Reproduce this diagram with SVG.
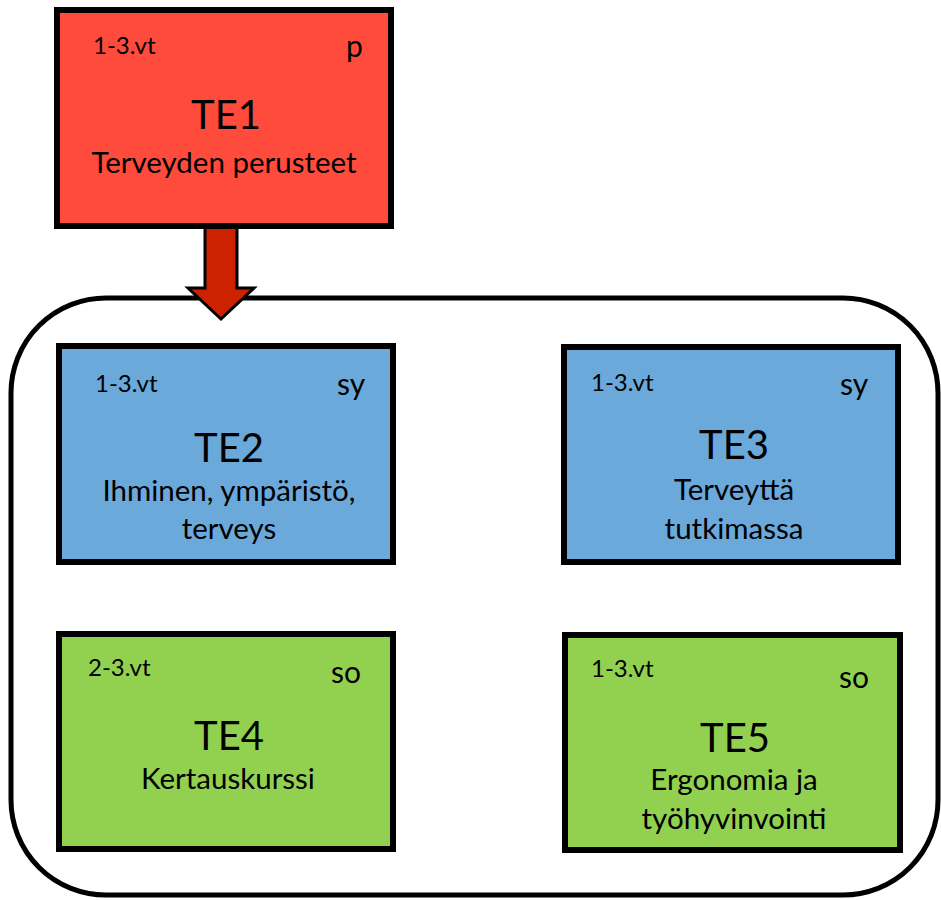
<svg xmlns="http://www.w3.org/2000/svg" width="941" height="900" viewBox="0 0 941 900">
<style>
  .box{stroke:#000;stroke-width:6}
  .red{fill:#FF4B3B}
  .blue{fill:#6AA9DA}
  .green{fill:#92D050}
  text{font-family:Lato,"Liberation Sans",sans-serif;fill:#000}
  .sm{font-size:24px}
  .tag{font-size:30px}
  .title{font-size:40px;text-anchor:middle}
  .sub{font-size:29.5px;text-anchor:middle}
</style>
<rect x="11" y="298" width="927" height="597" rx="95" ry="95" fill="#fff" stroke="#000" stroke-width="5"/>
<g id="connectors">
  <path d="M205,226 L237,226 L237,288 L254,288 L221,319 L188,288 L205,288 Z" fill="#CC2200" stroke="#000" stroke-width="3" stroke-linejoin="miter"/>
</g>
<g id="TE1">
  <rect class="box red" x="57" y="10" width="334" height="216"/>
  <text class="sm" x="93" y="54">1-3.vt</text>
  <text class="tag" x="346" y="57">p</text>
  <text class="title" x="226" y="129">TE1</text>
  <text class="sub" x="224" y="173">Terveyden perusteet</text>
</g>
<g id="TE2">
  <rect class="box blue" x="59" y="346" width="334" height="216"/>
  <text class="sm" x="95" y="392">1-3.vt</text>
  <text class="tag" x="337" y="395">sy</text>
  <text class="title" x="229" y="462">TE2</text>
  <text class="sub" x="229" y="501">Ihminen, ympäristö,</text>
  <text class="sub" x="229" y="539">terveys</text>
</g>
<g id="TE3">
  <rect class="box blue" x="564" y="347" width="334" height="215"/>
  <text class="sm" x="591" y="391">1-3.vt</text>
  <text class="tag" x="840" y="395">sy</text>
  <text class="title" x="734" y="459">TE3</text>
  <text class="sub" x="734" y="500">Terveyttä</text>
  <text class="sub" x="734" y="539">tutkimassa</text>
</g>
<g id="TE4">
  <rect class="box green" x="59" y="634" width="334" height="215"/>
  <text class="sm" x="88" y="676">2-3.vt</text>
  <text class="tag" x="331" y="683">so</text>
  <text class="title" x="229" y="750">TE4</text>
  <text class="sub" x="228" y="789">Kertauskurssi</text>
</g>
<g id="TE5">
  <rect class="box green" x="565" y="635" width="335" height="215"/>
  <text class="sm" x="591" y="677">1-3.vt</text>
  <text class="tag" x="839" y="688">so</text>
  <text class="title" x="735" y="752">TE5</text>
  <text class="sub" x="734" y="790">Ergonomia ja</text>
  <text class="sub" x="734" y="829">työhyvinvointi</text>
</g>
</svg>
